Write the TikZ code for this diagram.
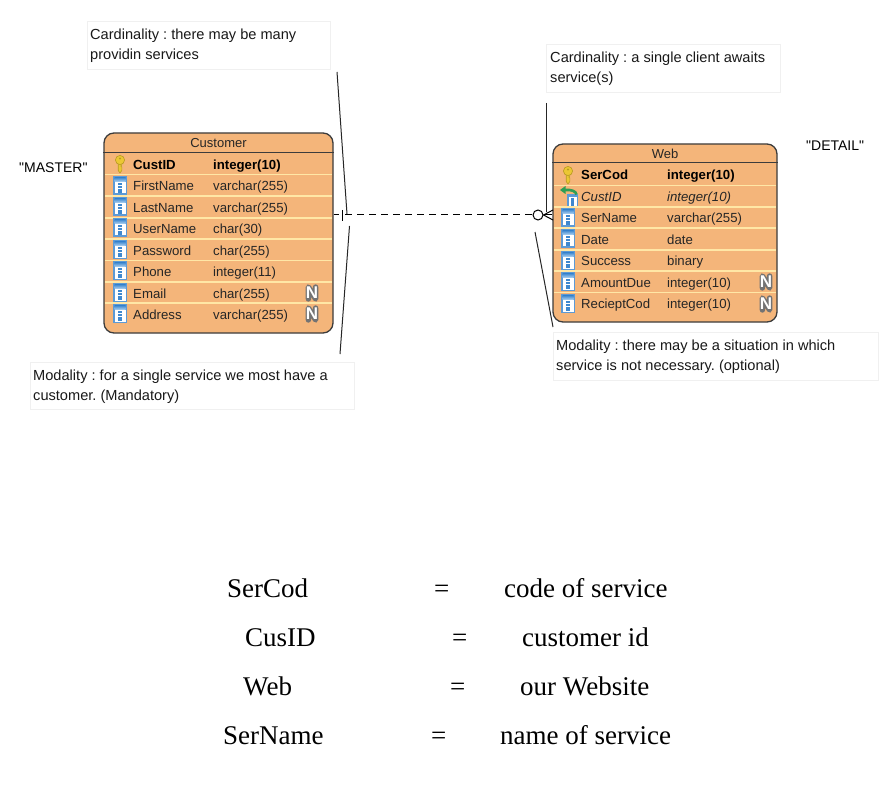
\documentclass[tikz,border=0pt]{standalone}
\usepackage{fontspec}
\setmainfont{Liberation Sans}
\newfontfamily\serifface{Liberation Serif}
\newfontfamily\plainface{Liberation Sans}
\definecolor{boxfill}{HTML}{F4B57A}
\definecolor{sepline}{HTML}{FFE7A6}
\definecolor{boxedge}{HTML}{3C3C3C}
\definecolor{noteedge}{HTML}{F0F0F0}
\definecolor{iconblue}{HTML}{3F88CF}
\definecolor{iconpale}{HTML}{A9CFEF}
\definecolor{keygold}{HTML}{EBC733}
\definecolor{keyedge}{HTML}{B89A24}
\definecolor{fkgreen}{HTML}{2E9E55}
\tikzset{
  x=1pt,y=-1pt,
  entity/.style={draw=boxedge,line width=1.3pt,fill=boxfill,rounded corners=10pt,inner sep=0pt},
  sepstyle/.style={draw=sepline,line width=1.2pt},
  headstyle/.style={draw=boxedge,line width=0.9pt},
  titletext/.style={font=\fontsize{13}{15}\selectfont,text=black!85,inner sep=0pt},
  celltext/.style={font=\fontsize{13.2}{15}\selectfont,text=black!85,inner sep=0pt,anchor=base west},
  pktext/.style={celltext,font=\fontsize{13.2}{15}\selectfont\bfseries,text=black},
  fktext/.style={celltext,font=\fontsize{13.2}{15}\selectfont\itshape},
  notebox/.style={draw=noteedge,line width=0.7pt,fill=white,inner sep=0pt},
  notetext/.style={font=\frenchspacing\fontsize{14.6}{20}\selectfont,text=black!90,inner sep=0pt,anchor=north west,align=left},
  tagtext/.style={font=\plainface\fontsize{14}{16}\selectfont,text=black,inner sep=0pt,anchor=base west},
  leader/.style={draw=black!85,line width=1pt},
  relation/.style={draw=black,line width=1pt},
  legendtext/.style={font=\serifface\fontsize{27}{30}\selectfont,text=black,inner sep=0pt,anchor=base west},
  colicon/.pic={
    \fill[iconblue!85] (-7,-10) rectangle (7,9);
    \fill[white] (-5.5,-4) rectangle (5.5,7.5);
    \shade[top color=iconblue,bottom color=iconpale] (-5.5,-8.5) rectangle (5.5,-4.5);
    \foreach \q in {-2,1,4,6}{\fill[iconblue] (-2,\q-0.8) rectangle (2,\q+0.6);}
  },
  keyicon/.pic={
    \draw[keyedge,fill=keygold,line width=0.6pt] (-1.8,-2) -- (-1.8,6.5) -- (0,9) -- (1.8,6.5) -- (1.8,3) -- (0.8,2) -- (1.8,1) -- (1.8,-2) -- cycle;
    \draw[keyedge,fill=keygold,line width=0.6pt] (0,-4) circle[radius=4.6];
    \fill[keyedge] (0,-5.5) circle[radius=1.1];
  },
  fkicon/.pic={
    \fill[iconblue!85] (-1,-2) rectangle (10,10);
    \fill[white] (0.5,1) rectangle (8.5,10);
    \fill[iconblue] (3,2) rectangle (6,10);
    \draw[fkgreen,line width=2.6pt] (8.5,-1.5) .. controls (8,-5) and (3,-6.5) .. (-3,-6);
    \fill[fkgreen] (-8,-6) -- (-2.5,-10) -- (-2.5,-2) -- cycle;
  },
  nullbase/.pic={
    \draw[black!55,line width=5.4pt,line join=round,line cap=round] (-3.6,6) -- (-3.6,-6) -- (3.6,6) -- (3.6,-6);
  },
}
\begin{document}
\begin{tikzpicture}
\path[use as bounding box,fill=white] (0,0) rectangle (896,786);

% note boxes
\node[notebox,minimum width=243pt,minimum height=48pt] (noteA) at (208.5,45) {};
\node[notebox,minimum width=234pt,minimum height=48pt] (noteB) at (663,68) {};
\node[notebox,minimum width=324pt,minimum height=47pt] (noteC) at (192,385.5) {};
\node[notebox,minimum width=325pt,minimum height=48pt] (noteD) at (715.5,356) {};
\node[notetext] (noteAt) at (90,29) {Cardinality : there may be many\\providin services};
\node[notetext] (noteBt) at (550,52) {Cardinality : a single client awaits\\service(s)};
\node[notetext] (noteCt) at (33,370) {Modality : for a single service we most have a\\customer. (Mandatory)};
\node[notetext] (noteDt) at (556,340) {Modality : there may be a situation in which\\service is not necessary. (optional)};

% entity frames
\node[entity,minimum width=229pt,minimum height=200pt] (cust) at (218.5,233) {};
\node[entity,minimum width=224pt,minimum height=178pt] (web) at (665,233) {};

% Customer
\node[titletext] (custT) at (218.5,143) {Customer};
\draw[headstyle] (cust.west |- 0,152.5) coordinate (ch1) -- (cust.east |- 0,152.5) coordinate (ch2);
\foreach \yy in {174.5,196,218,239,260.5,282,303}{\draw[sepstyle] (105,\yy) -- (332,\yy);}
\pic at (120,164) {keyicon};
\foreach \yy in {186,207,228,250,271,293,314}{\pic at (120,\yy) {colicon};}
\node[pktext] (c1a) at (133,169.5) {CustID};
\node[pktext] (c1b) at (213,169.5) {integer(10)};
\foreach \yy/\nm/\ty/\id in {
  191/FirstName/varchar(255)/2,
  212.4/LastName/varchar(255)/3,
  233.6/UserName/char(30)/4,
  255/Password/char(255)/5,
  276.4/Phone/integer(11)/6,
  298/Email/char(255)/7,
  319/Address/varchar(255)/8}{
  \node[celltext] (c\id a) at (133,\yy) {\nm};
  \node[celltext] (c\id b) at (213,\yy) {\ty};
}

% Web
\node[titletext] (webT) at (665,154) {Web};
\draw[headstyle] (web.west |- 0,162.5) coordinate (wh1) -- (web.east |- 0,162.5) coordinate (wh2);
\foreach \yy in {185.5,207,228,250,271,292.5}{\draw[sepstyle] (554,\yy) -- (776,\yy);}
\pic at (568,175) {keyicon};
\pic at (568,196) {fkicon};
\foreach \yy in {218,239,261,282,304}{\pic at (568,\yy) {colicon};}
\node[pktext] (w1a) at (581,180) {SerCod};
\node[pktext] (w1b) at (667,180) {integer(10)};
\node[fktext] (w2a) at (581,202) {CustID};
\node[fktext] (w2b) at (667,202) {integer(10)};
\foreach \yy/\nm/\ty/\id in {
  223/SerName/varchar(255)/3,
  244/Date/date/4,
  265.5/Success/binary/5,
  287/AmountDue/integer(10)/6,
  308.5/RecieptCod/integer(10)/7}{
  \node[celltext] (w\id a) at (581,\yy) {\nm};
  \node[celltext] (w\id b) at (667,\yy) {\ty};
}

% nullable marks
\foreach \px/\py/\id in {312/293/cn1,312/314/cn2,766/282/wn1,766/304/wn2}{
  \pic at (\px,\py) {nullbase};
  \node[font=\fontsize{17}{17}\selectfont\bfseries,text=white,inner sep=0pt] (\id) at (\px,\py) {N};
}

% tags
\node[tagtext] (master) at (19,173) {"MASTER"};
\node[tagtext] (detail) at (806,151) {"DETAIL"};

% relationship
\coordinate (relA) at (cust.east |- 0,215);
\coordinate (relB) at (web.west |- 0,215);
\node[draw=black,line width=1pt,fill=white,circle,minimum size=10pt,inner sep=0pt] (optc) at (538,215) {};
\coordinate (stubEnd) at (339,215);
\coordinate (dashStart) at (345,215);
\coordinate (barTop) at (342,210);
\coordinate (barBot) at (342,221);
\draw[relation] (relA) -- (stubEnd);
\draw[relation] (barTop) -- (barBot);
\draw[relation,dash pattern=on 6.5pt off 5.5pt] (dashStart) -- (optc.west);
\coordinate (footT) at (553,210);
\coordinate (footB) at (553,220);
\draw[relation] (optc.east) -- (relB);
\draw[relation] (footT) -- (optc.east) -- (footB);

% leaders
\coordinate (lA1) at (337,72); \coordinate (lA2) at (347,214);
\coordinate (lC1) at (349.5,226); \coordinate (lC2) at (340,354);
\coordinate (lB1) at (546,103); \coordinate (lB2) at (546,212);
\coordinate (lD1) at (535,232); \coordinate (lD2) at (553,327);
\draw[leader] (lA1) -- (lA2);
\draw[leader] (lC1) -- (lC2);
\draw[leader] (lB1) -- (lB2);
\draw[leader] (lD1) -- (lD2);

% legend
\node[legendtext] (l1a) at (227,597) {SerCod};
\node[legendtext] (l1b) at (434,597) {=};
\node[legendtext] (l1c) at (504,597) {code of service};
\node[legendtext] (l2a) at (245,646) {CusID};
\node[legendtext] (l2b) at (452,646) {=};
\node[legendtext] (l2c) at (522,646) {customer id};
\node[legendtext] (l3a) at (243,695) {Web};
\node[legendtext] (l3b) at (450,695) {=};
\node[legendtext] (l3c) at (520,695) {our Website};
\node[legendtext] (l4a) at (223,744) {SerName};
\node[legendtext] (l4b) at (431,744) {=};
\node[legendtext] (l4c) at (500,744) {name of service};
\end{tikzpicture}
\end{document}
